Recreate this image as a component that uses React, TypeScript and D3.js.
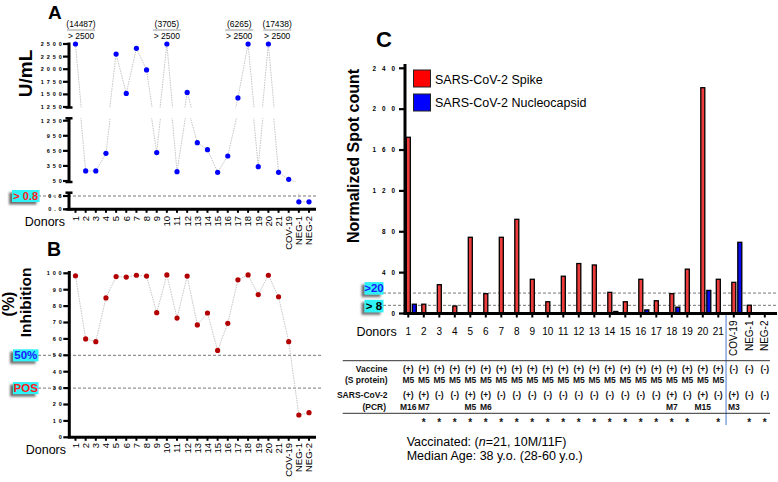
import React from "react";
import * as d3 from "d3";

// ---------------- DATA ----------------
const categories = ["1","2","3","4","5","6","7","8","9","10","11","12","13","14","15","16","17","18","19","20","21","COV-19","NEG-1","NEG-2"];
// Panel A: anti-spike antibody U/mL (values > 2500 are plotted at the 2500 cap)
const antibodyUmL = [14487, 250, 250, 600, 2300, 1520, 2415, 1985, 615, 3705, 235, 1540, 812, 673, 223, 548, 1430, 6265, 335, 17438, 223, 84, 0.45, 0.45];
const antibodyCap = 2500;
const antibodyThreshold = 0.8;
const ticksATop = [1250, 1500, 1750, 2000, 2250, 2500];
const ticksAMid = [50, 350, 650, 950, 1250];
const ticksALow = [0, 0.8];
// Panel B: % inhibition
const inhibitionPct = [98.5, 60, 58.3, 85, 98, 97.7, 98.8, 98.3, 76, 99, 72.7, 98.3, 68.5, 75.8, 53, 69.5, 96, 99, 87, 98.8, 85.7, 58.3, 13.6, 15];
const ticksB = [0, 10, 20, 30, 40, 50, 60, 70, 80, 90, 100];
const thresholdsB = [{ v: 50, label: "50%", color: "#1a1aff" }, { v: 30, label: "POS", color: "#ff1a1a" }];
// Panel C: normalized spot counts
const spikeSpots = [172.5, 9.1, 28.2, 7.3, 74.6, 19.4, 74.6, 92.2, 33.5, 11.5, 36.5, 48.9, 47.5, 20.7, 11.5, 33.5, 12.5, 19.4, 43.4, 221, 33.5, 30.5, 8.1, 0];
const nucleocapsidSpots = [9.1, 0, 0, 0, 0, 0, 0, 0, 0, 0, 0, 0, 0, 2, 0, 3.5, 0, 6.2, 0, 22.6, 0, 69.7, 0, 0];
const ticksC = [0, 40, 80, 120, 160, 200, 240];
const thresholdsC = [{ v: 20, label: ">20", color: "#1a1aff" }, { v: 8, label: "> 8", color: "#000000" }];
const seriesNames = ["SARS-CoV-2 Spike", "SARS-CoV-2 Nucleocapsid"];
// Table rows
const vaccineStatus = ["(+)","(+)","(+)","(+)","(+)","(+)","(+)","(+)","(+)","(+)","(+)","(+)","(+)","(+)","(+)","(+)","(+)","(+)","(+)","(+)","(+)","(-)","(-)","(-)"];
const vaccineType = ["M5","M5","M5","M5","M5","M5","M5","M5","M5","M5","M5","M5","M5","M5","M5","M5","M5","M5","M5","M5","M5","","",""];
const pcrStatus = ["(+)","(+)","(-)","(-)","(+)","(+)","(-)","(-)","(-)","(-)","(-)","(-)","(-)","(-)","(-)","(-)","(-)","(+)","(-)","(+)","(-)","(+)","(-)","(-)"];
const pcrVariant = ["M16","M7","","","M5","M6","","","","","","","","","","","","M7","","M15","","M3","",""];
const significant = [false,true,true,true,true,true,true,true,true,true,true,true,true,true,true,true,true,true,true,false,true,false,true,true];
const footnote1 = ["Vaccinated: (", "n", "=21, 10M/11F)"];
const footnote2 = "Median Age: 38 y.o. (28-60 y.o.)";

const F = "'Liberation Sans', Arial, Helvetica, sans-serif";
const CYAN = "#2ef2f6";

function TickLabel({ x, y, text, size, spacing }: any) {
  return (
    <text x={x + spacing} y={y} dy="0.35em" textAnchor="end" fontSize={size} fontWeight={700}
      letterSpacing={spacing} fontFamily={F} fill="#000">{text}</text>
  );
}

function TagBox({ x, y, w, h, label, color, size }: any) {
  return (
    <g>
      <rect x={x} y={y} width={w} height={h} fill={CYAN} filter="url(#shadow)" />
      <text x={x + w / 2} y={y + h / 2} dy="0.36em" textAnchor="middle" fontSize={size} fontWeight={700}
        fontFamily={F} fill={color}>{label}</text>
    </g>
  );
}

export default function App() {
  const xAB = d3.scalePoint<string>().domain(categories).range([75.5, 309]);
  const plotted = antibodyUmL.map((v) => Math.min(v, antibodyCap));
  const axisA = 69;
  const segs = [
    { key: "top", scale: d3.scaleLinear().domain([1250, 2500]).range([107, 44]), top: 42.5, bot: 107.5, ticks: ticksATop, fmt: (d: number) => String(d), has: (v: number) => v >= 1250, capTop: false },
    { key: "mid", scale: d3.scaleLinear().domain([50, 1250]).range([181, 120.7]), top: 118.3, bot: 182, ticks: ticksAMid, fmt: (d: number) => String(d), has: (v: number) => v >= 50 && v < 1250, capTop: true },
    { key: "low", scale: d3.scaleLinear().domain([0, 0.8]).range([209.3, 196]), top: 192.7, bot: 209.3, ticks: ticksALow, fmt: (d: number) => d.toFixed(1), has: (v: number) => v < 50, capTop: true },
  ];
  const axisYA = 209.3;

  // annotation placement for capped values: centre on the point, keep clear of axis, push neighbours apart
  const ann = antibodyUmL
    .map((v, i) => ({ v, i, x: xAB(categories[i]) as number }))
    .filter((d) => d.v > antibodyCap)
    .map((d) => ({ ...d, cx: d.x }));
  const halfW = 14;
  ann.forEach((d) => { d.cx = Math.max(d.cx, axisA - 2 + halfW); });
  for (let k = 1; k < ann.length; k++) {
    const gap = ann[k].cx - ann[k - 1].cx;
    const need = 2 * halfW + 10;
    if (gap < need) {
      const s = (need - gap) / 2;
      ann[k - 1].cx -= s;
      ann[k].cx += s;
    }
  }

  const yB = d3.scaleLinear().domain([0, 100]).range([437.3, 273.3]);
  const axisB = 69.3;

  const xC = d3.scalePoint<string>().domain(categories).range([408.3, 764.8]);
  const yC = d3.scaleLinear().domain([0, 240]).range([313.5, 68.3]);
  const axisC = 405;
  const sepX = ((xC("21") as number) + (xC("COV-19") as number)) / 2;
  const tagShiftC = [-11, -5.5];

  const lineB = d3.line<number>().x((_, i) => xAB(categories[i]) as number).y((v) => yB(v));

  return (
    <svg width={778} height={482} style={{ position: "absolute", left: 0, top: 0, background: "#fff" }} fontFamily={F}>
      <defs>
        <filter id="shadow" x="-50%" y="-50%" width="200%" height="200%">
          <feDropShadow dx={-3} dy={2.5} stdDeviation={1.3} floodColor="#555" floodOpacity={0.85} />
        </filter>
        {segs.map((s) => (
          <clipPath id={"clip-" + s.key} key={s.key}>
            <rect x={60} y={s.top} width={262} height={s.bot - s.top} />
          </clipPath>
        ))}
      </defs>

      {/* ================= PANEL A ================= */}
      <text x={48} y={18.5} fontSize={19} fontWeight={700}>A</text>
      <text transform="translate(25.5,73.5) rotate(-90)" dy="0.35em" textAnchor="middle" fontSize={19} fontWeight={700}>U/mL</text>

      {/* threshold dashed */}
      <line x1={38} x2={318} y1={segs[2].scale(antibodyThreshold)} y2={segs[2].scale(antibodyThreshold)} stroke="#777" strokeWidth={1} strokeDasharray="3 2" />
      <TagBox x={12} y={segs[2].scale(antibodyThreshold) - 6} w={27.5} h={12} label={"> " + antibodyThreshold} color="#ff1a1a" size={11} />

      {segs.map((s) => {
        const ln = d3.line<number>().x((_, i) => xAB(categories[i]) as number).y((v) => s.scale(v));
        return (
          <g key={s.key}>
            <path d={ln(plotted) || ""} fill="none" stroke="#b5b5b5" strokeWidth={0.8} strokeDasharray="1.5 1" clipPath={`url(#clip-${s.key})`} />
            <line x1={axisA} x2={axisA} y1={s.top} y2={s.bot} stroke="#000" strokeWidth={3} />
            <line x1={axisA - 3.5} x2={axisA + 3.5} y1={s.bot} y2={s.bot} stroke="#000" strokeWidth={2.5} />
            {s.capTop && <line x1={axisA - 3.5} x2={axisA + 3.5} y1={s.top} y2={s.top} stroke="#000" strokeWidth={2.5} />}
            {s.ticks.map((t) => (
              <g key={t}>
                <line x1={axisA - 6} x2={axisA} y1={s.scale(t)} y2={s.scale(t)} stroke="#000" strokeWidth={2.2} />
                <TickLabel x={61.7} y={s.scale(t)} text={s.fmt(t)} size={5.5} spacing={2.9} />
              </g>
            ))}
            {plotted.map((v, i) => s.has(v) ? (
              <circle key={i} cx={xAB(categories[i])} cy={s.scale(v)} r={2.6} fill="#0000ff" />
            ) : null)}
          </g>
        );
      })}
      {/* annotations for capped values */}
      {ann.map((d) => (
        <g key={"ann" + d.i}>
          <text x={d.cx} y={26.5} textAnchor="middle" fontSize={8.5}>({d.v})</text>
          <line x1={d.cx - halfW} x2={d.cx + halfW} y1={30} y2={30} stroke="#999" strokeWidth={1} />
          <text x={d.cx} y={38.5} textAnchor="middle" fontSize={8.5}>{"> " + antibodyCap}</text>
        </g>
      ))}
      {/* x axis A */}
      <line x1={axisA - 1.5} x2={316} y1={axisYA} y2={axisYA} stroke="#000" strokeWidth={3} />
      {categories.map((c) => (
        <g key={"ax" + c}>
          <line x1={xAB(c)} x2={xAB(c)} y1={axisYA} y2={axisYA + 3.5} stroke="#000" strokeWidth={2} />
          <text transform={`translate(${xAB(c)},216) rotate(-90)`} dy="0.35em" textAnchor="end" fontSize={9.5}>{c}</text>
        </g>
      ))}
      <text x={65} y={225.8} textAnchor="end" fontSize={12.5}>Donors</text>

      {/* ================= PANEL B ================= */}
      <text x={47} y={255.7} fontSize={19.5} fontWeight={700}>B</text>
      <text transform="translate(8.5,304) rotate(-90)" dy="0.35em" textAnchor="middle" fontSize={16} fontWeight={700}>(%)</text>
      <text transform="translate(26,302.5) rotate(-90)" dy="0.35em" textAnchor="middle" fontSize={15.5} fontWeight={700}>Inhibition</text>
      {thresholdsB.map((t) => (
        <g key={t.label}>
          <line x1={38} x2={322} y1={yB(t.v)} y2={yB(t.v)} stroke="#777" strokeWidth={1} strokeDasharray="3 2" />
          <TagBox x={13} y={yB(t.v) - 6} w={25.5} h={12} label={t.label} color={t.color} size={11.5} />
        </g>
      ))}
      <path d={lineB(inhibitionPct) || ""} fill="none" stroke="#b5b5b5" strokeWidth={0.8} strokeDasharray="1.5 1" />
      <line x1={axisB} x2={axisB} y1={271} y2={437.3} stroke="#000" strokeWidth={3} />
      {ticksB.map((t) => (
        <g key={"tb" + t}>
          <line x1={axisB - 6} x2={axisB} y1={yB(t)} y2={yB(t)} stroke="#000" strokeWidth={2.2} />
          <TickLabel x={61.7} y={yB(t)} text={String(t)} size={5.5} spacing={2.9} />
        </g>
      ))}
      {inhibitionPct.map((v, i) => (
        <circle key={"pb" + i} cx={xAB(categories[i])} cy={yB(v)} r={2.6} fill="#b30000" />
      ))}
      <line x1={axisB - 1.5} x2={316} y1={437.3} y2={437.3} stroke="#000" strokeWidth={3} />
      {categories.map((c) => (
        <g key={"bx" + c}>
          <line x1={xAB(c)} x2={xAB(c)} y1={437.3} y2={440.8} stroke="#000" strokeWidth={2} />
          <text transform={`translate(${xAB(c)},443) rotate(-90)`} dy="0.35em" textAnchor="end" fontSize={9.5}>{c}</text>
        </g>
      ))}
      <text x={66} y={454} textAnchor="end" fontSize={12.5}>Donors</text>

      {/* ================= PANEL C ================= */}
      <text x={376} y={47} fontSize={22} fontWeight={700}>C</text>
      <text transform="translate(353.5,156) rotate(-90)" dy="0.35em" textAnchor="middle" fontSize={16} fontWeight={700}>Normalized Spot count</text>
      {/* legend */}
      <rect x={413.5} y={70} width={17} height={17} fill="#ff0000" stroke="#222" strokeWidth={1} />
      <rect x={413.5} y={94} width={17} height={17} fill="#0000ff" stroke="#222" strokeWidth={1} />
      <text x={435} y={79.3} dy="0.35em" fontSize={12.5}>{seriesNames[0]}</text>
      <text x={435} y={102.3} dy="0.35em" fontSize={12.5}>{seriesNames[1]}</text>

      {thresholdsC.map((t, k) => (
        <g key={t.label}>
          <line x1={383} x2={778} y1={yC(t.v)} y2={yC(t.v)} stroke="#777" strokeWidth={1} strokeDasharray="3 2" />
          <TagBox x={364.5} y={yC(t.v) + tagShiftC[k]} w={19} h={12.5} label={t.label} color={t.color} size={11.5} />
        </g>
      ))}
      {/* bars */}
      {spikeSpots.map((v, i) => v > 0 ? (
        <rect key={"rs" + i} x={(xC(categories[i]) as number) - 2} width={4} y={yC(v)} height={yC(0) - yC(v)}
          fill="#ee3b3b" stroke="#000" strokeWidth={1.3} />
      ) : null)}
      {nucleocapsidSpots.map((v, i) => v > 0 ? (
        <rect key={"rn" + i} x={(xC(categories[i]) as number) + 4} width={4} y={yC(v)} height={yC(0) - yC(v)}
          fill="#0a0af0" stroke="#000" strokeWidth={1.3} />
      ) : null)}
      {/* y axis C */}
      <line x1={axisC} x2={axisC} y1={64} y2={313.5} stroke="#000" strokeWidth={3} />
      {ticksC.map((t) => (
        <g key={"tc" + t}>
          <line x1={axisC - 6} x2={axisC} y1={yC(t)} y2={yC(t)} stroke="#000" strokeWidth={2.2} />
          <TickLabel x={395} y={yC(t)} text={String(t)} size={6.3} spacing={6} />
        </g>
      ))}
      {/* x axis C */}
      <line x1={axisC - 1.5} x2={777} y1={313.5} y2={313.5} stroke="#000" strokeWidth={3} />
      {categories.map((c, i) => (
        <g key={"cx" + c}>
          <line x1={xC(c)} x2={xC(c)} y1={313.5} y2={317.5} stroke="#000" strokeWidth={2} />
          {i < 21 ? (
            <text x={xC(c)} y={335.4} textAnchor="middle" fontSize={10}>{c}</text>
          ) : (
            <text transform={`translate(${xC(c)},320.5) rotate(-90)`} dy="0.35em" textAnchor="end" fontSize={10}>{c}</text>
          )}
        </g>
      ))}
      <text x={396.7} y={336} textAnchor="end" fontSize={12.5}>Donors</text>

      {/* separator */}
      <line x1={sepX} x2={sepX} y1={315} y2={425} stroke="#4a78d0" strokeWidth={1} />

      {/* table */}
      <line x1={342.7} x2={770} y1={360.7} y2={360.7} stroke="#333" strokeWidth={1} />
      <line x1={342.7} x2={770} y1={413.3} y2={413.3} stroke="#333" strokeWidth={1} />
      <g fontSize={8.5} fontWeight={700} fill="#111">
        <text x={387.5} y={372}  textAnchor="end">Vaccine</text>
        <text x={387.5} y={383.2}  textAnchor="end">(S protein)</text>
        <text x={387.5} y={398}  textAnchor="end">SARS-CoV-2</text>
        <text x={386} y={410}  textAnchor="end">(PCR)</text>
        {categories.map((c, i) => (
          <g key={"tb" + c}>
            <text x={xC(c)} y={372} textAnchor="middle">{vaccineStatus[i]}</text>
            <text x={xC(c)} y={383.2} textAnchor="middle">{vaccineType[i]}</text>
            <text x={xC(c)} y={398} textAnchor="middle">{pcrStatus[i]}</text>
            <text x={xC(c)} y={410} textAnchor="middle">{pcrVariant[i]}</text>
            {significant[i] && <text x={xC(c)} y={426} textAnchor="middle" fontSize={10}>*</text>}
          </g>
        ))}
      </g>

      <text x={406.7} y={446} fontSize={12.5}>
        {footnote1[0]}<tspan fontStyle="italic">{footnote1[1]}</tspan>{footnote1[2]}
      </text>
      <text x={406.7} y={459.5} fontSize={12.5}>{footnote2}</text>
    </svg>
  );
}
